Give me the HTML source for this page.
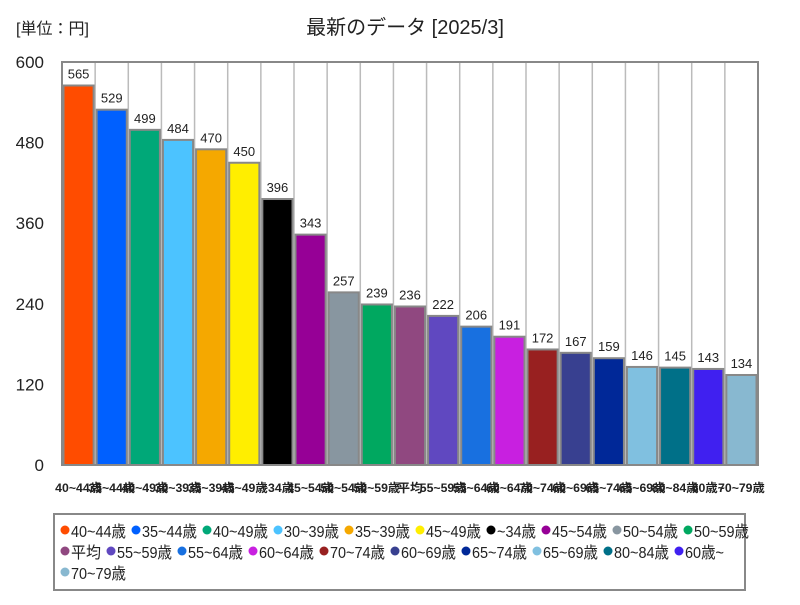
<!DOCTYPE html>
<html><head><meta charset="utf-8"><style>
body{margin:0;background:#fff;width:800px;height:600px;overflow:hidden;font-family:"Liberation Sans","Noto Sans CJK JP",sans-serif;}
svg text{font-family:"Liberation Sans","Noto Sans CJK JP",sans-serif;}
</style></head><body>
<svg id="chart" width="800" height="600" xmlns="http://www.w3.org/2000/svg">
<text x="16" y="34" font-size="16" fill="#222">[単位：円]</text>
<text x="405" y="34" font-size="20" fill="#222" text-anchor="middle">最新のデータ [2025/3]</text>
<g id="grid"></g><g id="bars"></g><g id="ylabels"></g><g id="xlabels"></g>
<rect x="54" y="514" width="691" height="76" fill="#fff" stroke="#888" stroke-width="2"/>
<g id="legend"></g>
</svg>
<script>
const categories=["40~44歳","35~44歳","40~49歳","30~39歳","35~39歳","45~49歳","~34歳","45~54歳","50~54歳","50~59歳","平均","55~59歳","55~64歳","60~64歳","70~74歳","60~69歳","65~74歳","65~69歳","80~84歳","60歳~","70~79歳"];
const values=[565,529,499,484,470,450,396,343,257,239,236,222,206,191,172,167,159,146,145,143,134];
const colors=["#ff4c00","#0060ff","#00a878","#4cc3ff","#f5a800","#ffee00","#000000","#960096","#8896a0","#00a860","#904880","#6048c0","#1870e0","#c820e0","#982020","#384090","#002898","#80c0e0","#007088","#4020f0","#88b8d0"];
const yTicks=[0,120,240,360,480,600];
const ns="http://www.w3.org/2000/svg";
const L=62,R=758,T=62,B=465,yMax=600;
const n=categories.length, slot=(R-L)/n;
const y=v=>B-(v/yMax)*(B-T);
const x=i=>L+i*slot;
function mk(t,a,p){const e=document.createElementNS(ns,t);for(const k in a)e.setAttribute(k,a[k]);p.appendChild(e);return e;}
const grid=document.getElementById('grid'),bars=document.getElementById('bars'),yl=document.getElementById('ylabels'),xl=document.getElementById('xlabels'),lg=document.getElementById('legend');
for(let i=1;i<n;i++){const g=mk('line',{x1:x(i),x2:x(i),y1:T,y2:B,stroke:'#bbb','stroke-width':1.5},grid);

}
const fr=mk('rect',{x:L,y:T,width:R-L,height:B-T,fill:'none',stroke:'#888','stroke-width':2},grid);


yTicks.forEach(t=>{const e=mk('text',{x:44,y:y(t)+6,'font-size':17,'text-anchor':'end',fill:'#222'},yl);e.textContent=t;

});
function tw(c){let w=0;for(const ch of c){w+=/[\x00-\x7f~]/.test(ch)?8:15;}return w;}
values.forEach((v,i)=>{
const r=mk('rect',{x:x(i)+1.5,y:y(v),width:slot-3,height:B-y(v),fill:colors[i],stroke:'#888','stroke-width':2},bars);


const bg=mk('rect',{x:x(i)+2,y:y(v)-22,width:slot-4,height:20,fill:'#fff'},bars);


const t=mk('text',{x:x(i)+slot/2,y:y(v)-7,'font-size':13,'text-anchor':'middle',fill:'#222'},bars);t.textContent=v;


const lw=tw(categories[i])*0.85;
const c=mk('text',{x:x(i)+slot/2-lw/2,y:492,'font-size':12,'font-weight':'bold',fill:'#222',textLength:lw,lengthAdjust:'spacingAndGlyphs'},xl);c.textContent=categories[i];


});
const rowY=[531,552,573];let cx=60,row=0;
categories.forEach((c,i)=>{
if(i===10||i===20){row++;cx=60;}
const w=tw(c);
const dot=mk('circle',{cx:cx+5,cy:rowY[row]-1,r:4.5,fill:colors[i]},lg);


const t=mk('text',{x:cx+11,y:rowY[row]+6,'font-size':16,fill:'#222',textLength:w,lengthAdjust:'spacingAndGlyphs'},lg);t.textContent=c;


cx+=11+w+5;
});
</script>
</body></html>
